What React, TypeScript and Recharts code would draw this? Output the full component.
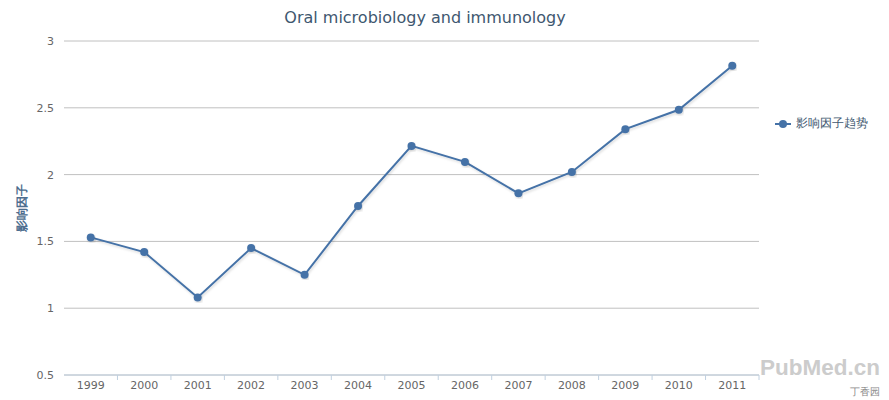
import React from 'react';
import { LineChart, Line, XAxis, YAxis, CartesianGrid } from 'recharts';

const years = ['1999', '2000', '2001', '2002', '2003', '2004', '2005', '2006', '2007', '2008', '2009', '2010', '2011'];
const impactFactor = [1.53, 1.42, 1.08, 1.45, 1.25, 1.765, 2.215, 2.095, 1.86, 2.02, 2.34, 2.485, 2.815];
const yTicks = [0.5, 1, 1.5, 2, 2.5, 3];

const data = years.map((year, i) => ({ year, value: impactFactor[i] }));

const FONT = '"DejaVu Sans", Verdana, sans-serif';
const LINE = '#4572A7';
const PLOT_W = 695;

const XTick = (props: any) => {
    const { x, y, payload } = props;
    const half = PLOT_W / years.length / 2;
    return (
        <g>
            <line x1={x + half} y1={y - 8} x2={x + half} y2={y - 3} stroke="#C0D0E0" />
            <text x={x} y={y + 6} textAnchor="middle" fill="#666" fontSize={11} fontFamily={FONT}>
                {payload.value}
            </text>
        </g>
    );
};

export default function App() {
    return (
        <div style={{ position: 'absolute', left: 0, top: 0, width: 889, height: 400, background: '#fff', fontFamily: FONT }}>
            <svg width={0} height={0} style={{ position: 'absolute' }}>
                <defs>
                    <filter id="lineShadow" x="-5%" y="-5%" width="110%" height="120%">
                        <feDropShadow dx={1} dy={1.5} stdDeviation={1} floodColor="#000" floodOpacity={0.15} />
                    </filter>
                </defs>
            </svg>
            <div style={{ position: 'absolute', left: 0, top: 8, width: 850, textAlign: 'center', fontSize: 16, color: '#3E576F' }}>
                Oral microbiology and immunology
            </div>
            <LineChart width={889} height={400} data={data} margin={{ top: 41, right: 130, bottom: 0, left: 0 }}>
                <CartesianGrid vertical={false} stroke="#C0C0C0" />
                <XAxis
                    dataKey="year"
                    scale="band"
                    height={25}
                    stroke="#C0D0E0"
                    tickLine={false}
                    tick={<XTick />}
                    interval={0}
                />
                <YAxis
                    domain={[0.5, 3]}
                    ticks={yTicks}
                    width={64}
                    axisLine={false}
                    tickLine={false}
                    tick={{ fill: '#666', fontSize: 11, fontFamily: FONT }}
                    tickMargin={4}
                    label={{
                        value: '影响因子',
                        angle: -90,
                        position: 'insideLeft',
                        offset: 22,
                        style: { fill: '#4d6d8e', fontSize: 12, fontWeight: 'bold', fontFamily: FONT, textAnchor: 'middle' },
                    }}
                />
                <Line
                    type="linear"
                    dataKey="value"
                    name="影响因子趋势"
                    stroke={LINE}
                    strokeWidth={2}
                    dot={{ r: 4, fill: LINE, stroke: LINE, strokeWidth: 0 }}
                    activeDot={false}
                    style={{ filter: 'url(#lineShadow)' }}
                    isAnimationActive={false}
                />
            </LineChart>
            <div style={{ position: 'absolute', left: 775, top: 115, display: 'flex', alignItems: 'center', fontSize: 12, color: '#3E576F' }}>
                <svg width={16} height={12} style={{ marginRight: 5 }}>
                    <line x1={0} y1={6} x2={16} y2={6} stroke={LINE} strokeWidth={2} />
                    <circle cx={8} cy={6} r={4} fill={LINE} />
                </svg>
                影响因子趋势
            </div>
            <div style={{ position: 'absolute', left: 760, top: 355, fontSize: 22.5, fontWeight: 'bold', color: '#ccc', fontFamily: '"Liberation Sans", Arial, sans-serif' }}>
                PubMed.cn
            </div>
            <div style={{ position: 'absolute', left: 850, top: 385, fontSize: 10, color: '#888', fontFamily: FONT }}>
                丁香园
            </div>
        </div>
    );
}
